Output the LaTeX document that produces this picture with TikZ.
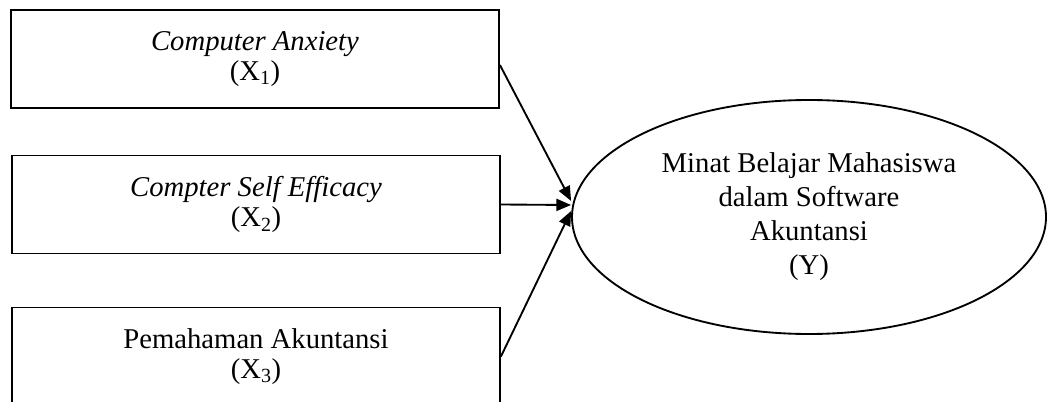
\documentclass[tikz,border=0pt]{standalone}
\usepackage{fontspec}
\setmainfont{Liberation Serif}
\usetikzlibrary{arrows.meta,shapes.geometric}

\tikzset{every picture/.style={line width=1.4pt}}
\tikzset{
  varbox/.style={draw, rectangle, minimum width=366pt, minimum height=73.5pt, inner sep=0.75pt, align=center, font=\fontsize{21.5}{23}\selectfont},
  varoval/.style={draw, ellipse, minimum width=355.5pt, minimum height=175.5pt, inner sep=0.75pt, align=center, font=\fontsize{21.5}{25.5}\selectfont},
  connector/.style={-{Triangle[length=11pt,width=9pt]}}
}

\begin{document}
\begin{tikzpicture}[x=0.75pt,y=0.75pt,yscale=-1,xscale=1]
\useasboundingbox (0,0) rectangle (1048,402);

%Shape: Rectangle [X1]
\draw (255,59) node [varbox] (x1) {\textit{Computer Anxiety}\\(X\textsubscript{1})};
%Shape: Rectangle [X2]
\draw (256,204.5) node [varbox] (x2) {\textit{Compter Self Efficacy}\\(X\textsubscript{2})};
%Shape: Rectangle [X3]
\draw (256,356.5) node [varbox] (x3) {Pemahaman Akuntansi\\(X\textsubscript{3})};
%Shape: Ellipse [Y]
\draw (809,217) node [varoval] (y) {Minat Belajar Mahasiswa\\dalam Software\\Akuntansi\\(Y)};

%Straight Lines
\coordinate (t1) at ([yshift=-12pt]y.west);
\coordinate (t2) at ([yshift=-9pt]y.west);
\coordinate (t3) at ([yshift=-4.5pt]y.west);
\draw [connector] ([yshift=4.5pt]x1.east) -- (t1);
\draw [connector] (x2.east) -- (t2);
\draw [connector] (x3.east) -- (t3);

\end{tikzpicture}
\end{document}
